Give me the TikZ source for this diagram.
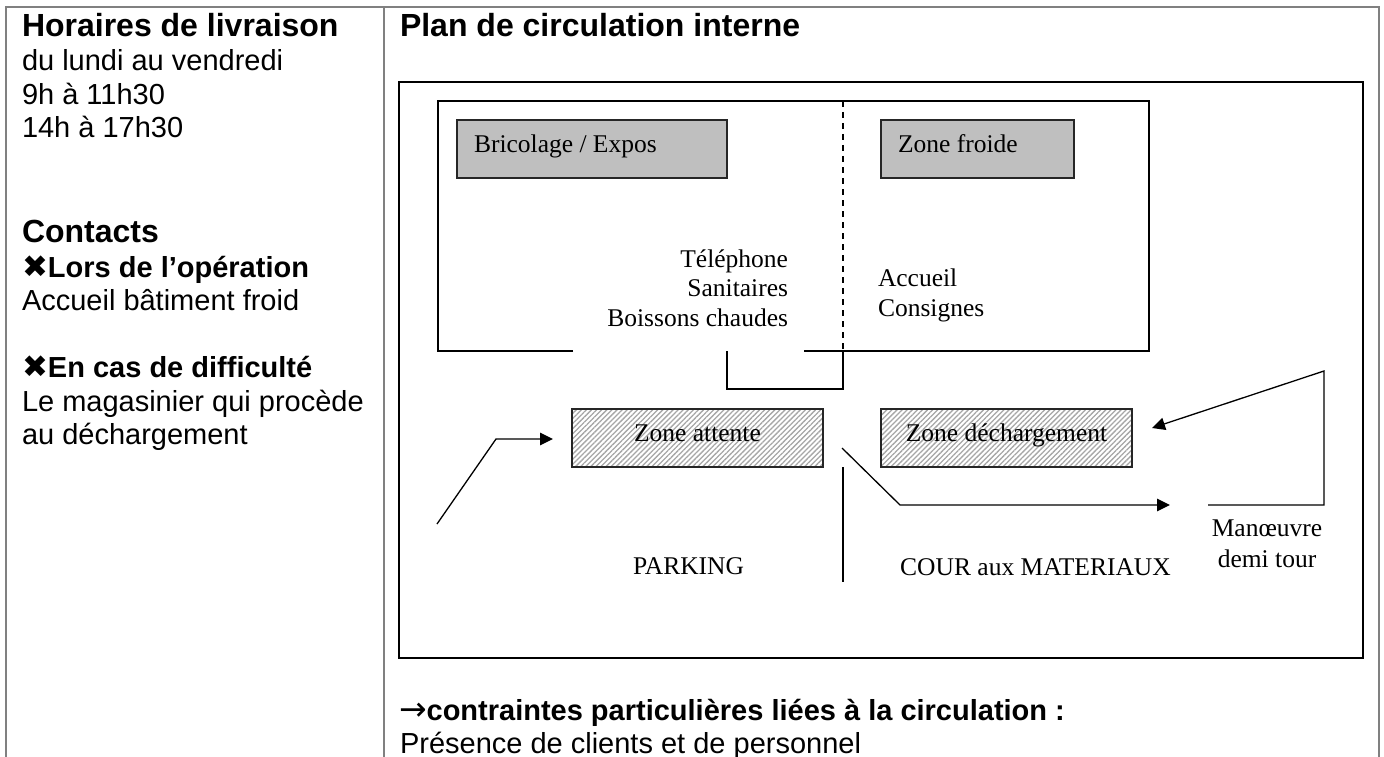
\documentclass[tikz,border=0pt]{standalone}
\usepackage{fontspec}
\setmainfont{Liberation Sans}
\newfontfamily\serifface{Liberation Serif}
\newfontfamily\dingface{DejaVu Sans}
\usetikzlibrary{patterns.meta,arrows.meta}
\newcommand{\bigbold}{\fontsize{32}{36}\selectfont\bfseries}
\newcommand{\bodytext}{\fontsize{29}{33}\selectfont}
\newcommand{\crossmark}{{\dingface\fontsize{31}{33}\selectfont ✖}}
\newcommand{\arrowmark}{{\dingface\mdseries\fontsize{33}{33}\selectfont →}}
\tikzset{
  x=1pt,y=-1pt,
  txt/.style={inner sep=0pt,outer sep=0pt,anchor=base west,text depth=0pt},
  headtxt/.style={txt,font=\bigbold},
  bodytxt/.style={txt,font=\bodytext},
  boldtxt/.style={txt,font=\bodytext\bfseries},
  plantxt/.style={inner sep=0pt,outer sep=0pt,anchor=base west,font=\serifface\fontsize{25.5}{29}\selectfont},
  planright/.style={plantxt,anchor=base east},
  plancenter/.style={plantxt,anchor=base},
  cell/.style={draw=gray,line width=2pt},
  wall/.style={draw=black,line width=1.3pt},
  darkbox/.style={draw=black!85,line width=1.5pt,inner sep=0pt,outer sep=0pt,fill=black!25},
  hatchbox/.style={draw=black!85,line width=1.5pt,inner sep=0pt,outer sep=0pt,
    pattern={Lines[angle=45,distance=3.6pt,line width=1.3pt]},pattern color=black!35},
  route/.style={wall,-{Triangle[length=13pt,width=12.5pt]}},
}
\begin{document}
\begin{tikzpicture}
\useasboundingbox (0,0) rectangle (1384,757);
% table lines
\coordinate (tl) at (6,757); \coordinate (tt) at (6,7); \coordinate (tr) at (1378.5,7); \coordinate (trb) at (1378.5,757);
\coordinate (tm) at (384,7); \coordinate (tmb) at (384,757);
\draw[cell] (tl) -- (tt) -- (tr) -- (trb);
\draw[cell] (tm) -- (tmb);
% left column
\node[headtxt] (t1) at (22,37) {Horaires de livraison};
\node[bodytxt] (t2) at (22,71) {du lundi au vendredi};
\node[bodytxt] (t3) at (22,105) {9h à 11h30};
\node[bodytxt] (t4) at (22,138) {14h à 17h30};
\node[headtxt] (t5) at (22,242) {Contacts};
\node[boldtxt] (t6) at (22,277) {\crossmark Lors de l’opération};
\node[bodytxt] (t7) at (22,310) {Accueil bâtiment froid};
\node[boldtxt] (t8) at (22,377) {\crossmark En cas de difficulté};
\node[bodytxt] (t9) at (22,411) {Le magasinier qui procède};
\node[bodytxt] (t10) at (22,444) {au déchargement};
% right column
\node[headtxt] (t11) at (400,37) {Plan de circulation interne};
\node[boldtxt] (t12) at (399,720) {\arrowmark contraintes particulières liées à la circulation :};
\node[bodytxt] (t13) at (400,753) {Présence de clients et de personnel};
% outer frame
\coordinate (fa) at (399,82); \coordinate (fb) at (1363,658);
\draw[wall] (fa) rectangle (fb);
% building
\coordinate (b1) at (573,351); \coordinate (b2) at (438,351); \coordinate (b3) at (438,101);
\coordinate (b4) at (1149,101); \coordinate (b5) at (1149,351); \coordinate (b6) at (804,351);
\draw[wall] (b1) -- (b2) -- (b3) -- (b4) -- (b5) -- (b6);
\coordinate (d1) at (843,101); \coordinate (d2) at (843,351); \coordinate (u1) at (727,351); \coordinate (u2) at (727,389); \coordinate (u3) at (843,389);
\draw[wall,dashed,dash pattern=on 6pt off 5pt] (d1) -- (d2);
\draw[wall] (u1) -- (u2) -- (u3) -- (d2);
% zones
\node[darkbox,minimum width=270pt,minimum height=58pt] (bric) at (592,149) {};
\node[plantxt] (bricl) at (474,153) {Bricolage / Expos};
\node[darkbox,minimum width=193pt,minimum height=58pt] (froid) at (977.5,149) {};
\node[plantxt] (froidl) at (898,153) {Zone froide};
\node[hatchbox,minimum width=251pt,minimum height=58pt] (att) at (697.5,438) {};
\node[plancenter] (attl) at (697.5,441) {Zone attente};
\node[hatchbox,minimum width=251pt,minimum height=58pt] (dech) at (1006.5,438) {};
\node[plancenter] (dechl) at (1006.5,441) {Zone déchargement};
% labels
\node[planright] (l1) at (788,267) {Téléphone};
\node[planright] (l2) at (788,296) {Sanitaires};
\node[planright] (l3) at (788,326) {Boissons chaudes};
\node[plantxt] (l4) at (878,286) {Accueil};
\node[plantxt] (l5) at (878,316) {Consignes};
\node[plancenter] (l6) at (688.5,574) {PARKING};
\node[plancenter] (l7) at (1035.5,575) {COUR aux MATERIAUX};
\node[plancenter] (l8) at (1267,536) {Manœuvre};
\node[plancenter] (l9) at (1267,567) {demi tour};
% routes
\coordinate (r1) at (437,524); \coordinate (r2) at (496,439); \coordinate (r3) at (553,439);
\draw[route] (r1) -- (r2) -- (r3);
\coordinate (v1) at (843,467); \coordinate (v2) at (843,582);
\draw[wall] (v1) -- (v2);
\coordinate (s1) at (842,448); \coordinate (s2) at (900,505); \coordinate (s3) at (1170,505);
\draw[route] (s1) -- (s2) -- (s3);
\coordinate (m1) at (1208,505); \coordinate (m2) at (1324,505); \coordinate (m3) at (1324,371); \coordinate (m4) at (1152,428);
\draw[route] (m1) -- (m2) -- (m3) -- (m4);
\end{tikzpicture}
\end{document}
